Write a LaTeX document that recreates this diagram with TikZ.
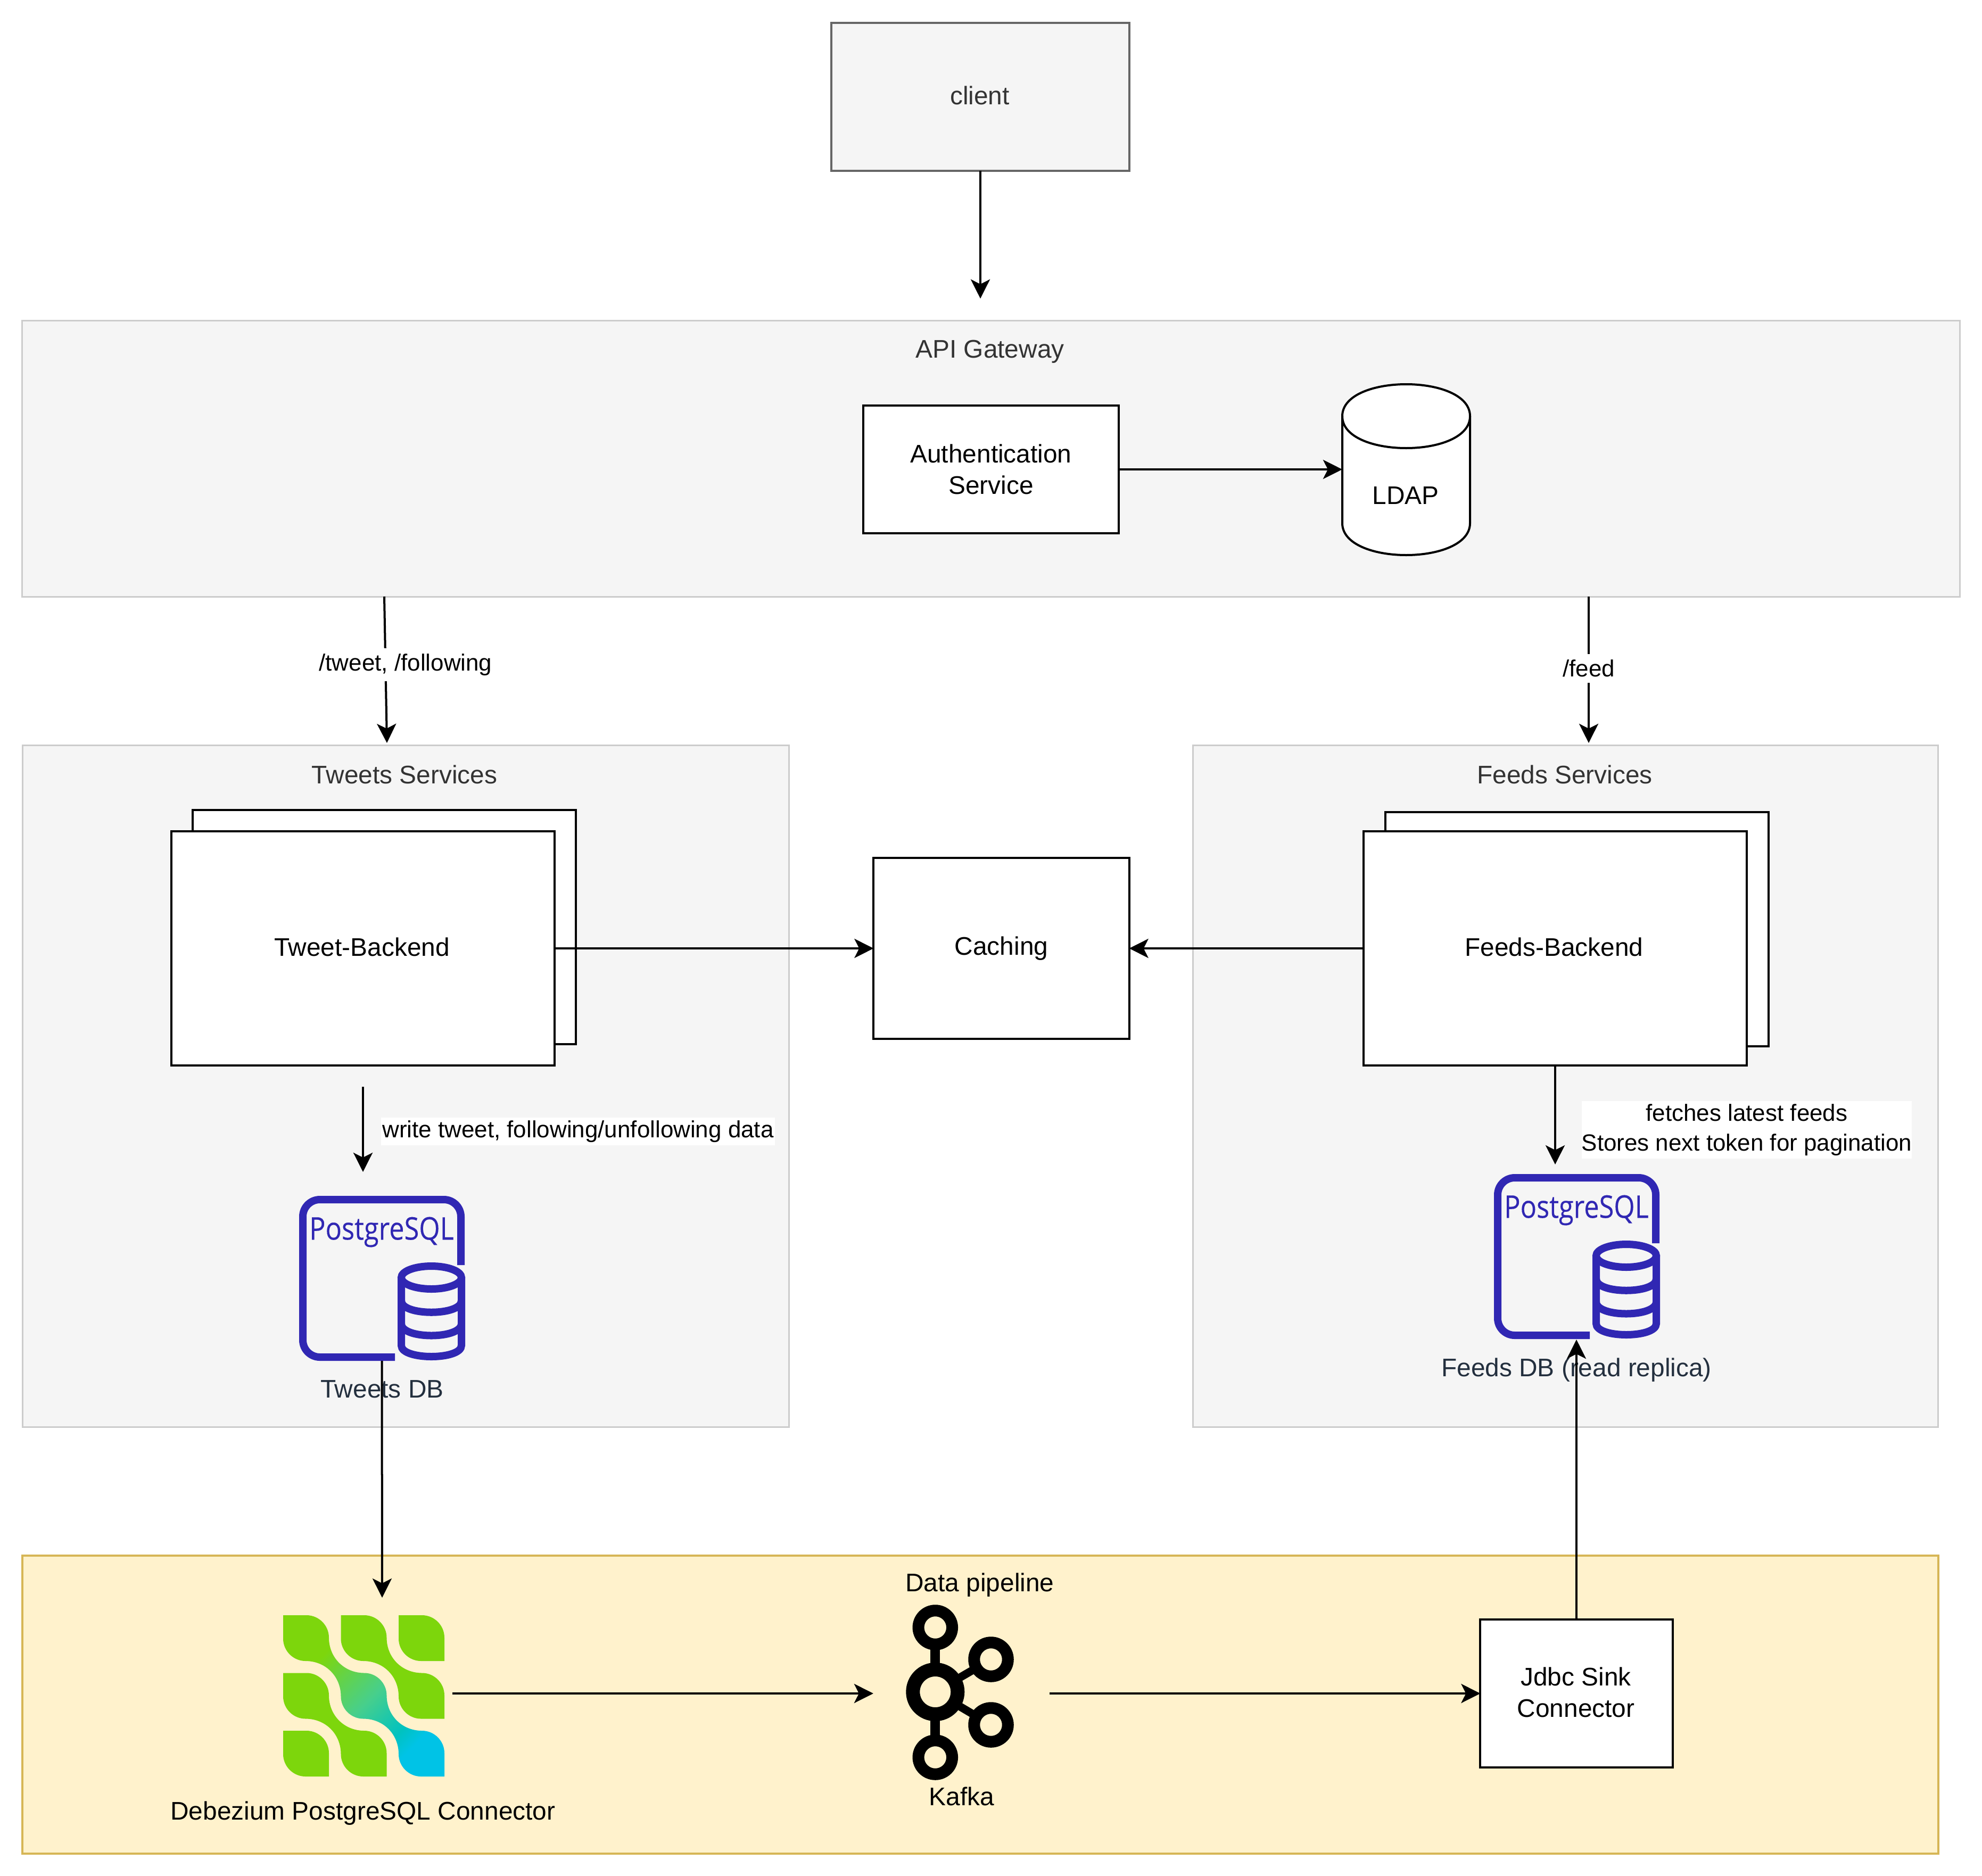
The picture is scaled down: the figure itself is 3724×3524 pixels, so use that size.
\documentclass[tikz,border=0pt]{standalone}
\usepackage{fontspec}
\setmainfont{Liberation Sans}
\newfontfamily\pgfont[FakeBold=0.2]{Open Sans}
\usetikzlibrary{arrows.meta}
\definecolor{groupfill}{HTML}{F5F5F5}
\definecolor{groupline}{HTML}{CCCCCC}
\definecolor{clientline}{HTML}{666666}
\definecolor{titlegray}{HTML}{333333}
\definecolor{dbtext}{HTML}{232F3E}
\definecolor{pipefill}{HTML}{FFF2CC}
\definecolor{pipeline}{HTML}{D6B656}
\definecolor{pgblue}{HTML}{3027B3}
\definecolor{dbzgreen}{HTML}{7DD60C}
\definecolor{dbzmid}{HTML}{47CF8C}
\definecolor{dbzteal}{HTML}{00C2C0}
\definecolor{dbzblue}{HTML}{00C3E6}
\pgfdeclarehorizontalshading{dbzshade}{100bp}{color(0bp)=(dbzgreen);color(25bp)=(dbzgreen);color(32bp)=(dbzgreen);color(52bp)=(dbzmid);color(66bp)=(dbzteal);color(72bp)=(dbzblue);color(100bp)=(dbzblue)}
\tikzset{
  base/.style={inner sep=0pt,outer sep=0pt,align=center,font=\fontsize{13.6}{16.8}\selectfont},
  group/.style={base,draw=groupline,fill=groupfill,line width=.03cm},
  box/.style={base,draw=black,fill=white,line width=.04cm},
  clientbox/.style={base,draw=clientline,fill=groupfill,line width=.04cm,text=titlegray},
  pipebox/.style={base,draw=pipeline,fill=pipefill,line width=.04cm},
  title/.style={base,text=titlegray},
  plain/.style={base},
  dblabel/.style={base,text=dbtext},
  edgetext/.style={base,font=\fontsize{12.5}{15.8}\selectfont},
  icon/.style={inner sep=0pt,outer sep=0pt},
  conn/.style={line width=.04cm,-{Stealth[length=.36cm,width=.36cm,inset=.09cm]}},
  pgline/.style={draw=pgblue,line width=.14cm},
}
\newcommand{\pgicon}{%
  \draw[pgline,rounded corners=.32cm] (866,2377) -- (866,2254) -- (569,2254) -- (569,2550) -- (742,2550);
  \draw[pgline] (810.5,2400.5) ellipse [x radius=56.5,y radius=21.5];
  \draw[pgline] (754,2400.5) -- (754,2528) .. controls (754,2556) and (867,2556) .. (867,2528) -- (867,2400.5);
  \draw[pgline] (754,2444) .. controls (754,2473) and (867,2473) .. (867,2444);
  \draw[pgline] (754,2487) .. controls (754,2517) and (867,2517) .. (867,2487);
  \node[icon,text=pgblue,font=\pgfont\fontsize{16.7}{20}\selectfont] at (717,2315) {\scalebox{.86}[1]{PostgreSQL}};
}
\begin{document}
\begin{tikzpicture}[x=.01cm,y=-.01cm]
\useasboundingbox (0,0) rectangle (3724,3524);
\fill[white] (0,0) rectangle (3724,3524);

% groups
\node[clientbox,minimum width=5.6cm,minimum height=2.78cm] (client) at (1842,182) {};
\node[title] (clienttext) at (1841,179) {client};
\node[group,minimum width=36.38cm,minimum height=5.18cm] (gateway) at (1862,862) {};
\node[title] (gatewaytitle) at (1860,661) {API Gateway};
\node[group,minimum width=14.39cm,minimum height=12.8cm] (tweets) at (762.5,2041) {};
\node[title] (tweetstitle) at (760,1455) {Tweets Services};
\node[group,minimum width=13.99cm,minimum height=12.8cm] (feeds) at (2941.5,2041) {};
\node[title] (feedstitle) at (2940,1455) {Feeds Services};
\node[pipebox,minimum width=35.98cm,minimum height=5.6cm] (pipe) at (1842,3203) {};
\node[plain] (pipetitle) at (1841,2978) {Data pipeline};

% gateway content
\node[box,minimum width=4.8cm,minimum height=2.4cm] (auth) at (1862,882) {Authentication\\Service};
\node[icon,minimum width=2.4cm,minimum height=3.21cm] (ldap) at (2642,882) {};
\draw[box] (2522,782) .. controls (2522,702) and (2762,702) .. (2762,782) -- (2762,983) .. controls (2762,1063) and (2522,1063) .. (2522,983) -- cycle;
\draw[box,fill=none] (2522,782) .. controls (2522,862) and (2762,862) .. (2762,782);
\node[plain] (ldaptext) at (2641,931) {LDAP};

% backends
\node[box,minimum width=7.2cm,minimum height=4.4cm] (tbback) at (722,1742) {};
\node[box,minimum width=7.2cm,minimum height=4.4cm] (tb) at (682,1782) {};
\node[plain] (tbtext) at (680,1779) {Tweet-Backend};
\node[box,minimum width=7.2cm,minimum height=4.4cm] (fbback) at (2963,1746) {};
\node[box,minimum width=7.2cm,minimum height=4.4cm] (fb) at (2922,1782) {};
\node[plain] (fbtext) at (2920,1779) {Feeds-Backend};
\node[box,minimum width=4.8cm,minimum height=3.4cm] (caching) at (1881.5,1782) {Caching};

% postgres icons
\node[icon,minimum width=3.11cm,minimum height=3.1cm] (tdb) at (717.5,2402) {};
\pgicon
\node[dblabel] (tdblabel) at (718,2610) {Tweets DB};
\node[icon,minimum width=3.11cm,minimum height=3.1cm] (fdb) at (2963.5,2362) {};
\begin{scope}[shift={(2245,-41)}]\pgicon\end{scope}
\node[dblabel] (fdblabel) at (2962,2574) {Feeds DB (read replica)};

% debezium icon
\node[icon,minimum width=3.2cm,minimum height=3.04cm] (dbz) at (690,3182) {};
\node[plain] (dbztext) at (682,3407) {Debezium PostgreSQL Connector};
\begin{scope}[shift={(532,3035)}]
  \fill[dbzgreen] (217,0) -- (261,0) .. controls (284,0) and (303,19) .. (303,42) -- (303,86) -- (259,86) .. controls (236,86) and (217,67) .. (217,44) -- cycle;
  \fill[dbzgreen] (0,217) -- (44,217) .. controls (67,217) and (86,236) .. (86,259) -- (86,303) -- (42,303) .. controls (19,303) and (0,284) .. (0,261) -- cycle;
  \fill[dbzgreen] (108.5,0) -- (152.5,0) .. controls (175.5,0) and (194.5,19) .. (194.5,42) .. controls (194.5,80) and (223.5,108.5) .. (261,108.5) .. controls (284,108.5) and (303,127.5) .. (303,150.5) -- (303,194.5) -- (259,194.5) .. controls (236,194.5) and (217,175.5) .. (217,152.5) .. controls (217,115) and (188.5,86) .. (150.5,86) .. controls (127.5,86) and (108.5,67) .. (108.5,44) -- cycle;
  \fill[dbzgreen] (0,108.5) -- (44,108.5) .. controls (67,108.5) and (86,127.5) .. (86,150.5) .. controls (86,188.5) and (115,217) .. (152.5,217) .. controls (175.5,217) and (194.5,236) .. (194.5,259) -- (194.5,303) -- (150.5,303) .. controls (127.5,303) and (108.5,284) .. (108.5,261) .. controls (108.5,223.5) and (80,194.5) .. (42,194.5) .. controls (19,194.5) and (0,175.5) .. (0,152.5) -- cycle;
  \shade[shading=dbzshade,shading angle=-45] (0,0) -- (44,0) .. controls (67,0) and (86,19) .. (86,42) .. controls (86,80) and (115,108.5) .. (152.5,108.5) .. controls (175.5,108.5) and (194.5,127.5) .. (194.5,150.5) .. controls (194.5,188.5) and (223.5,217) .. (261,217) .. controls (284,217) and (303,236) .. (303,259) -- (303,303) -- (259,303) .. controls (236,303) and (217,284) .. (217,261) .. controls (217,223.5) and (188.5,194.5) .. (150.5,194.5) .. controls (127.5,194.5) and (108.5,175.5) .. (108.5,152.5) .. controls (108.5,115) and (80,86) .. (42,86) .. controls (19,86) and (0,67) .. (0,44) -- cycle;
\end{scope}

% kafka icon
\node[icon,minimum width=3.31cm,minimum height=3.3cm] (kafka) at (1806.5,3182) {};
\draw[line width=.18cm] (1757.3,3058) -- (1757.3,3302);
\draw[line width=.15cm] (1757.3,3179) -- (1862,3118);
\draw[line width=.15cm] (1757.3,3179) -- (1862,3241);
\draw[line width=.26cm,fill=pipefill] (1757.3,3179) circle [radius=42];
\draw[line width=.22cm,fill=pipefill] (1757.3,3058) circle [radius=31.75];
\draw[line width=.22cm,fill=pipefill] (1757.3,3302) circle [radius=31.75];
\draw[line width=.22cm,fill=pipefill] (1862,3118) circle [radius=31.75];
\draw[line width=.22cm,fill=pipefill] (1862,3241) circle [radius=31.75];
\node[plain] (kafkatext) at (1807,3375) {Kafka};

\node[box,minimum width=3.61cm,minimum height=2.78cm] (jdbc) at (2962,3182) {};
\node[plain] (jdbctext) at (2961,3180) {Jdbc Sink\\Connector};

% free ends
\coordinate (gwin) at (1842,561);
\coordinate (gwtweetout) at (722,1121);
\coordinate (tweetsin) at (727,1396);
\coordinate (gwfeedout) at (2985,1121);
\coordinate (feedsin) at (2985,1396);
\coordinate (tbout) at (682,2042);
\coordinate (tbdb) at (682,2202);
\coordinate (fbdb) at (2922,2188);
\coordinate (dbzin) at (718,3002);

% connectors
\draw[conn] (client.south) -- (gwin);
\draw[conn] (auth.east) -- (auth.east -| ldap.west);
\draw[conn] (gwtweetout) -- (tweetsin);
\node[edgetext,fill=white,inner xsep=3pt,inner ysep=3pt] (tweetlabel) at (762,1249) {/tweet, /following};
\draw[conn] (gwfeedout) -- (feedsin);
\node[edgetext,fill=white,inner xsep=3pt,inner ysep=3pt] (feedlabel) at (2985,1256) {/feed};
\draw[conn] (tb.east) -- (caching.west);
\draw[conn] (fb.west) -- (caching.east);
\draw[conn] (tbout) -- (tbdb);
\node[edgetext,fill=white,minimum width=7.4cm,minimum height=.52cm] (writelabel) at (1086,2126) {write tweet, following/unfollowing data};
\draw[conn] (fb.south) -- (fbdb);
\node[edgetext,fill=white,minimum width=6.2cm,minimum height=1.08cm] (fetchlabel) at (3282,2123) {fetches latest feeds\\Stores next token for pagination};
\draw[conn] (tdb.south) -- (dbzin);
\draw[conn] (jdbc.north) -- (jdbc.north |- fdb.south);
\draw[conn] (dbz.east) -- (kafka.west);
\draw[conn] (kafka.east) -- (jdbc.west);
\end{tikzpicture}
\end{document}
